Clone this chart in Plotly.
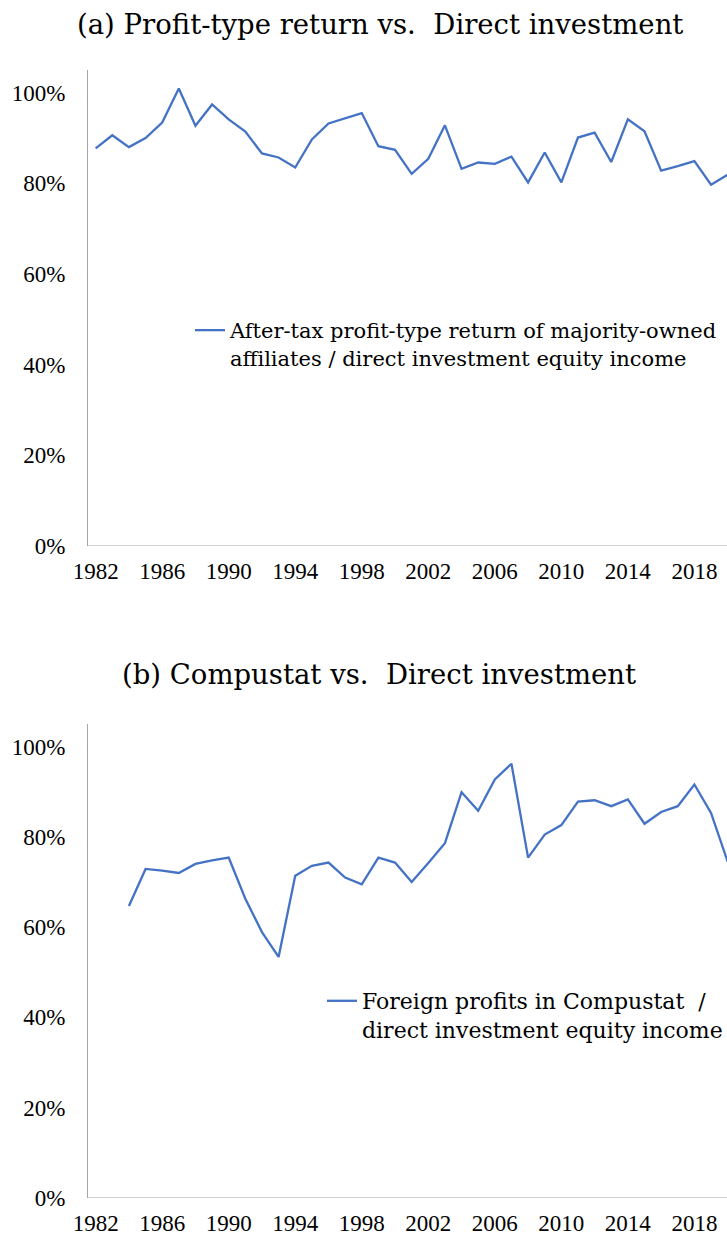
import plotly.graph_objects as go

# ---- data (percent) ----
years_a = list(range(1982, 2021))
ratio_a = [87.7, 90.6, 88.0, 90.0, 93.4, 100.9, 92.7, 97.4, 94.1, 91.4,
           86.6, 85.7, 83.5, 89.7, 93.2, 94.3, 95.5, 88.2, 87.4, 82.1,
           85.4, 92.8, 83.2, 84.6, 84.3, 85.9, 80.2, 86.8, 80.2, 90.1,
           91.2, 84.7, 94.1, 91.5, 82.8, 83.8, 84.9, 79.7, 81.9]

years_b = list(range(1984, 2021))
ratio_b = [64.7, 72.9, 72.5, 72.0, 74.0, 74.8, 75.4, 66.3, 58.9, 53.4,
           71.4, 73.6, 74.3, 71.0, 69.5, 75.4, 74.3, 70.0, 74.2, 78.6,
           89.9, 85.8, 92.7, 96.2, 75.4, 80.5, 82.6, 87.8, 88.1, 86.8,
           88.3, 82.9, 85.5, 86.8, 91.6, 85.3, 74.5]

name_a = "After-tax profit-type return of majority-owned<br>affiliates / direct investment equity income"
name_b = "Foreign profits in Compustat  /<br>direct investment equity income"
title_a = "(a) Profit-type return vs.  Direct investment"
title_b = "(b) Compustat vs.  Direct investment"
x_ticks = list(range(1982, 2019, 4))
y_ticks = [0, 20, 40, 60, 80, 100]
y_ticktext = ["0%", "20%", "40%", "60%", "80%", "100%"]

W, H = 727, 1236
TICKFONT = "Liberation Serif"
TEXTFONT = "DejaVu Serif"
BLUE = "#4472C4"
AXIS = "#A6A6A6"


def py(px):
    return 1 - px / H


fig = go.Figure()
fig.add_trace(go.Scatter(x=years_a, y=ratio_a, mode="lines", name=name_a,
                         line=dict(color=BLUE, width=2.3), xaxis="x", yaxis="y",
                         legend="legend"))
fig.add_trace(go.Scatter(x=years_b, y=ratio_b, mode="lines", name=name_b,
                         line=dict(color=BLUE, width=2.3), xaxis="x2", yaxis="y2",
                         legend="legend2"))

xcommon = dict(range=[1981.54, 2019.96], tickmode="array", tickvals=x_ticks,
               showgrid=False, zeroline=False, showline=False, ticks="",
               automargin=False,
               tickfont=dict(family=TICKFONT, size=23, color="black"),
               ticklabelstandoff=9, domain=[88 / W, 1])
ycommon = dict(range=[0, 105], tickmode="array", tickvals=y_ticks,
               ticktext=y_ticktext, showgrid=False, automargin=False,
               zeroline=False, showline=True, linecolor=AXIS, linewidth=1,
               ticks="", tickfont=dict(family=TICKFONT, size=23, color="black"),
               ticklabelstandoff=17)

legcommon = dict(xanchor="left", yanchor="top", bgcolor="rgba(0,0,0,0)",
                 itemwidth=30, valign="top", borderwidth=0)

fig.update_layout(
    width=W, height=H, margin=dict(l=0, r=0, t=0, b=0, autoexpand=False),
    paper_bgcolor="white", plot_bgcolor="white", showlegend=True,
    xaxis=dict(**xcommon, anchor="y"),
    yaxis=dict(**ycommon, domain=[py(546), py(70)], anchor="x"),
    xaxis2=dict(**xcommon, anchor="y2"),
    yaxis2=dict(**ycommon, domain=[py(1198), py(724)], anchor="x2"),
    legend=dict(**legcommon, x=190 / W, y=py(310),
                font=dict(family=TEXTFONT, size=21, color="black")),
    legend2=dict(**legcommon, x=322 / W, y=py(980),
                 font=dict(family=TEXTFONT, size=22, color="black")),
    annotations=[
        dict(text=title_a, x=380 / W, y=py(24), xref="paper", yref="paper",
             showarrow=False, xanchor="center", yanchor="middle",
             font=dict(family=TEXTFONT, size=27.5, color="black")),
        dict(text=title_b, x=379 / W, y=py(674), xref="paper", yref="paper",
             showarrow=False, xanchor="center", yanchor="middle",
             font=dict(family=TEXTFONT, size=27.5, color="black")),
    ],
    shapes=[
        dict(type="line", xref="x domain", yref="y", x0=0, x1=1, y0=0, y1=0,
             line=dict(color=AXIS, width=1)),
        dict(type="line", xref="x2 domain", yref="y2", x0=0, x1=1, y0=0, y1=0,
             line=dict(color=AXIS, width=1)),
    ],
)

fig.write_html("out.html", config={"displayModeBar": False},
               post_script="document.body.style.margin='0';"
                           "document.body.style.overflow='hidden';")
